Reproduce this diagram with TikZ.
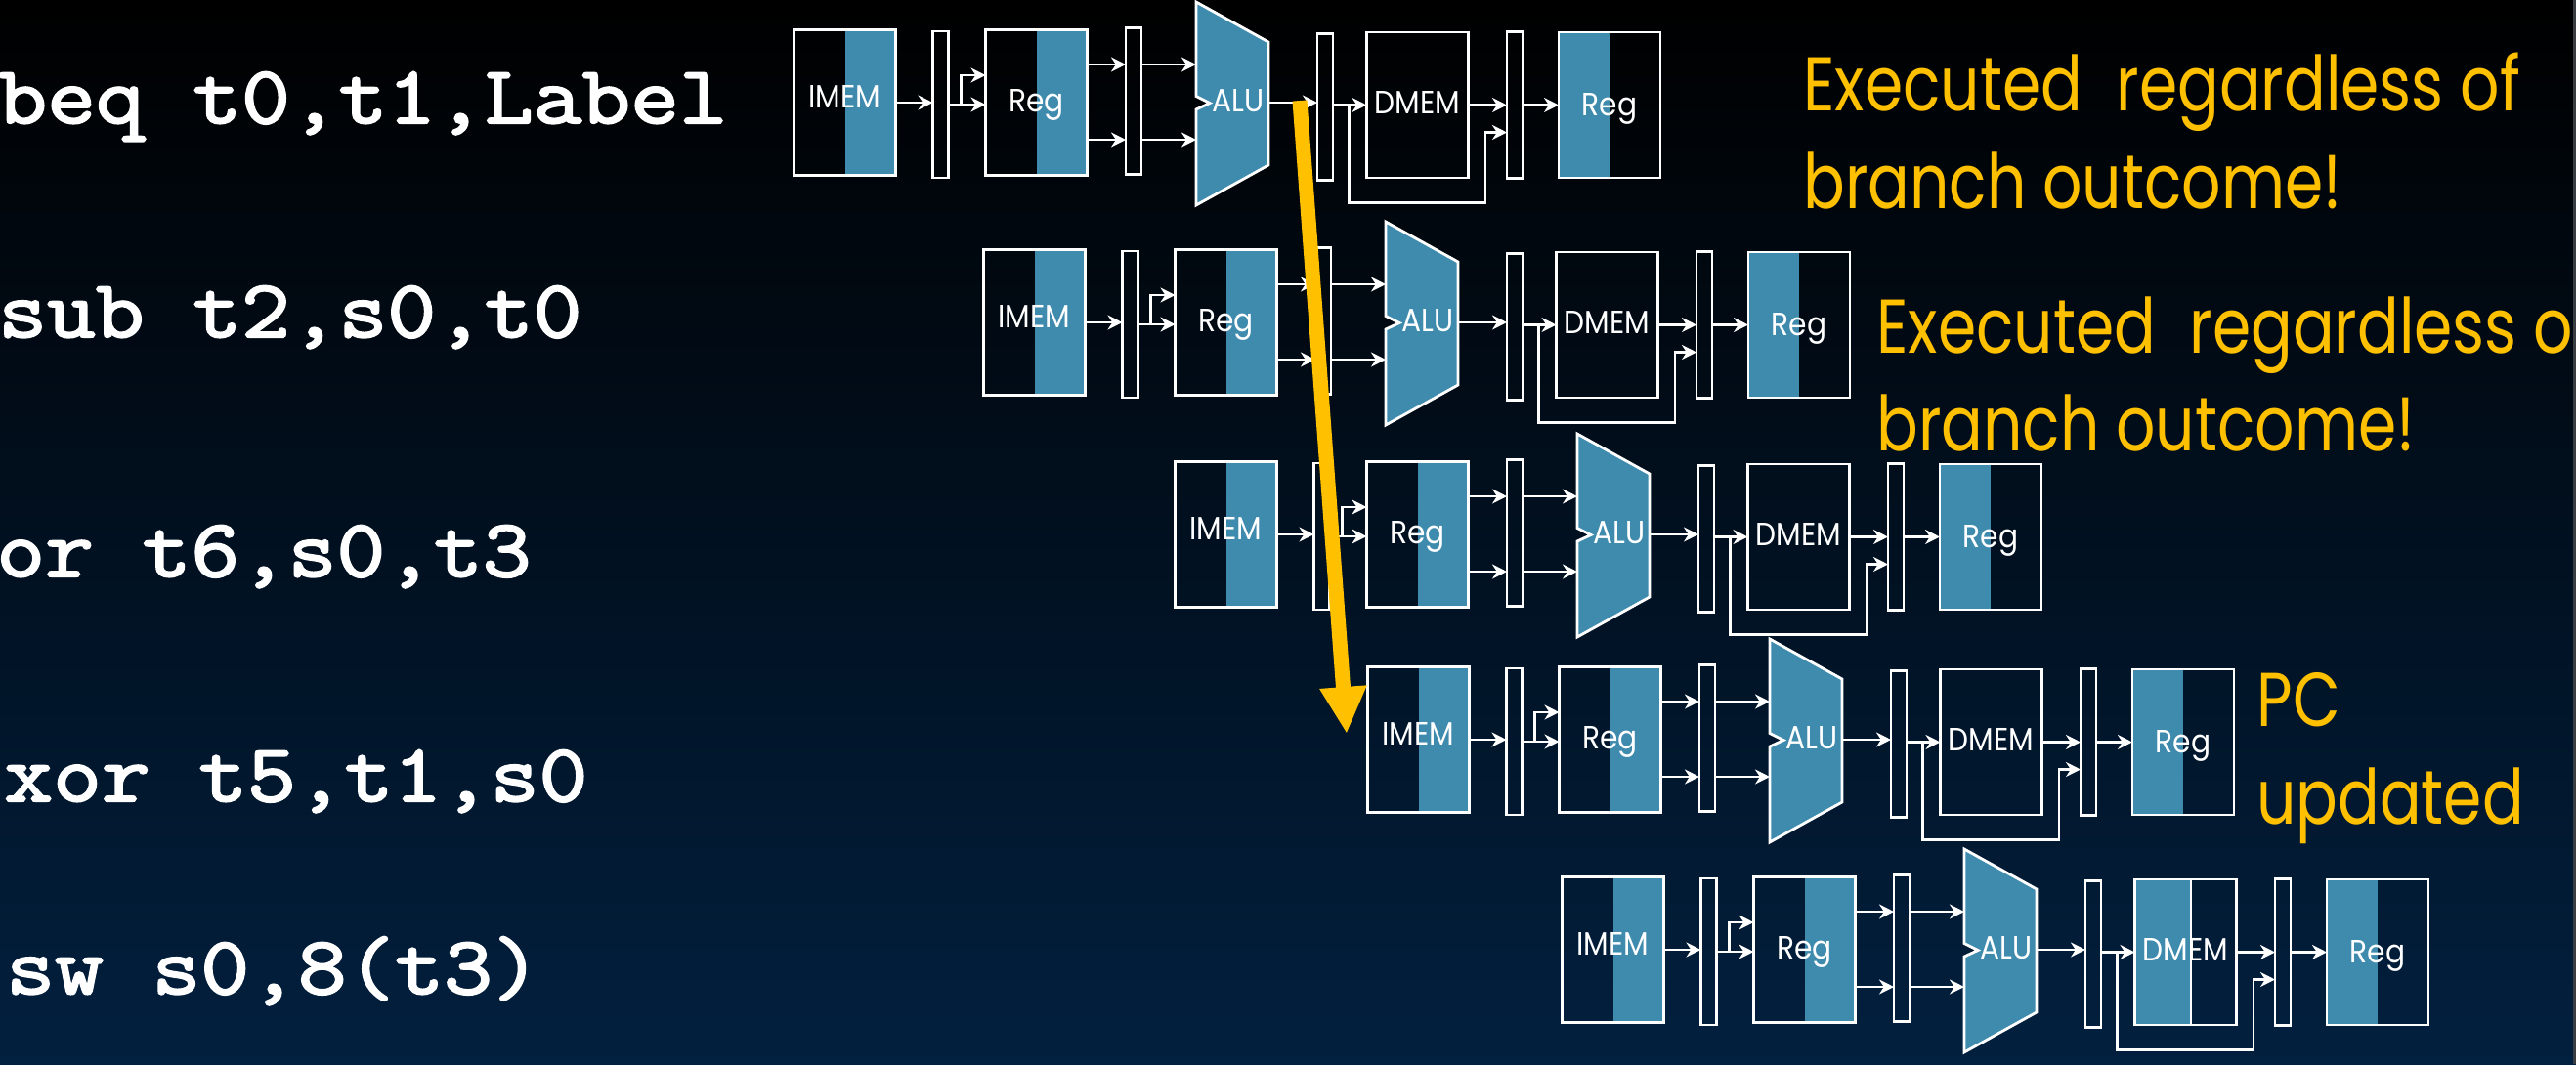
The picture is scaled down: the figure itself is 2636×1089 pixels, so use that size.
\documentclass[tikz,border=0pt]{standalone}
\usepackage{fontspec}
\usetikzlibrary{positioning,arrows.meta,calc}
\newfontfamily\instrfont[FakeStretch=1.15,FakeBold=2.6]{Latin Modern Mono}
\newfontfamily\notefont[FakeStretch=0.81]{Poppins}
\newfontfamily\blockfont[FakeStretch=0.9]{Poppins}
\definecolor{pipeblue}{HTML}{3F8BAE}
\definecolor{notegold}{HTML}{FFC000}
\definecolor{slidenavy}{HTML}{02203F}
\definecolor{edgegrey}{HTML}{3A3D42}
\tikzset{
    memblock/.style={draw=white,line width=1.4pt,minimum width=52pt,minimum height=74.5pt,
        inner sep=0pt,outer sep=0pt,text=white,text depth=0pt,font=\blockfont\fontsize{16.5}{18}\selectfont},
    latch/.style={draw=white,line width=1.3pt,minimum width=8pt,minimum height=75pt,inner sep=0pt,outer sep=0pt},
    wire/.style={draw=white,line width=1.3pt,-{Stealth[length=7.5pt,width=7.5pt]}},
    aluhull/.style={draw=white,line width=1.4pt,fill=pipeblue,line join=miter},
    alutext/.style={text=white,inner sep=0pt,text height=9pt,text depth=0pt,font=\blockfont\fontsize{16.5}{18}\selectfont},
    halfright/.style={path picture={\fill[pipeblue] (path picture bounding box.north) rectangle (path picture bounding box.south east);}},
    halfleft/.style={path picture={\fill[pipeblue] (path picture bounding box.north) rectangle (path picture bounding box.south west);}},
    halfnone/.style={},
    dmemread/.style={path picture={
        \fill[pipeblue] ([xshift=2.7pt]path picture bounding box.north) rectangle (path picture bounding box.south west);
        \draw[white,line width=1.4pt] ([xshift=2.7pt]path picture bounding box.north) -- ([xshift=2.7pt]path picture bounding box.south);}},
    instr/.style={anchor=base west,inner sep=0pt,text=white,font=\instrfont\fontsize{42}{45}\selectfont},
    note/.style={anchor=base west,inner sep=0pt,align=left,text=notegold,font=\notefont\fontsize{39}{50}\selectfont},
}

\begin{document}
\begin{tikzpicture}[x=0.5pt,y=-0.5pt]
    \useasboundingbox (0,0) rectangle (2636,1089);
    \shade[top color=black,middle color=black,bottom color=slidenavy] (0,0) rectangle (2636,1089);

    \node[instr] (beq) at (-2,126) {beq t0,t1,Label};
    \node[instr] (sub) at (-2,345) {sub t2,s0,t0};
    \node[instr] (or) at (-4,590) {or t6,s0,t3};
    \node[instr] (xor) at (4,820) {xor t5,t1,s0};
    \node[instr] (sw) at (6,1017) {sw s0,8(t3)};

    % one row per instruction
    \foreach \row/\px/\py/\dmemfill in {a/0/-1/halfnone,b/194/224/halfnone,c/390/441/halfnone,d/587/651/halfnone,e/786/866/dmemread} {
        \node[memblock,halfright,anchor=west,text height=5.5pt] (imem\row) at (812.5+\px,106+\py) {IMEM};
        \node[latch,right=19pt of imem\row,yshift=-1pt] (la\row) {};
        \node[memblock,halfright,right=19pt of la\row,yshift=1pt,text height=9.5pt] (rega\row) {Reg};
        \node[latch,right=19.75pt of rega\row,yshift=0.75pt] (lb\row) {};

        \coordinate (aluc\row) at ([xshift=49pt,yshift=-0.75pt]lb\row.east);
        \coordinate (alunw\row) at ([shift={(-42,-103)}]aluc\row);
        \coordinate (alune\row) at ([shift={(32,-62)}]aluc\row);
        \coordinate (aluse\row) at ([shift={(32,64)}]aluc\row);
        \coordinate (alusw\row) at ([shift={(-42,105)}]aluc\row);
        \draw[aluhull] (alunw\row) -- (alune\row) -- (aluse\row) -- (alusw\row)
            -- ([shift={(-42,7)}]aluc\row) -- ([shift={(-28,0.5)}]aluc\row) -- ([shift={(-42,-6.5)}]aluc\row) -- cycle;
        \node[alutext] (alu\row) at ([xshift=0.5pt]aluc\row) {ALU};
        \coordinate (aluo\row) at (aluc\row -| alune\row);

        \node[latch,anchor=west] (lc\row) at ([xshift=25pt,yshift=-2.25pt]aluo\row) {};
        \node[memblock,\dmemfill,right=17.25pt of lc\row,yshift=1pt,text height=8.5pt] (dmem\row) {DMEM};
        \node[latch,right=19.75pt of dmem\row] (ld\row) {};
        \node[memblock,halfleft,right=18.5pt of ld\row,text height=11pt] (regb\row) {Reg};

        \coordinate (tapa\row) at ([xshift=6.5pt]la\row.east);
        \coordinate (regu\row) at ([yshift=19.5pt]rega\row.east);
        \coordinate (regl\row) at ([yshift=-19pt]rega\row.east);
        \coordinate (tapb\row) at ([xshift=-9pt]dmem\row.west);
        \coordinate (low\row) at ([yshift=-50pt]tapb\row);
        \coordinate (bypc\row) at ([yshift=-14pt]ld\row.west);
        \coordinate (rise\row) at ([xshift=-11pt]bypc\row);

        \draw[wire] (imem\row.east) -- (imem\row.east -| la\row.west);
        \draw[wire] (la\row.east) -- (la\row.east -| rega\row.west);
        \draw[wire] (tapa\row |- la\row.east) |- ([yshift=14pt]rega\row.west);
        \draw[wire] (regu\row) -- (regu\row -| lb\row.west);
        \draw[wire] (regl\row) -- (regl\row -| lb\row.west);
        \draw[wire] (regu\row -| lb\row.east) -- (regu\row -| alunw\row);
        \draw[wire] (regl\row -| lb\row.east) -- (regl\row -| alunw\row);
        \draw[wire] (aluo\row) -- (aluo\row -| lc\row.west);
        \draw[wire] (dmem\row.west -| lc\row.east) -- (dmem\row.west);
        \draw[wire] (tapb\row) -- (low\row) -| (rise\row) -- (bypc\row);
        \draw[wire] (dmem\row.east) -- (dmem\row.east -| ld\row.west);
        \draw[wire] (ld\row.east) -- (ld\row.east -| regb\row.west);
    }

    \node[note] (regardlessa) at (1845,213) {Executed\hspace{9pt} regardless of\\branch outcome!};
    \node[note] (regardlessb) at (1920,461) {Executed\hspace{9pt} regardless o\\branch outcome!};
    \node[note] (pcupdated) at (2309,843) {PC\\updated};

    % branch decision
    \coordinate (takenfrom) at (1330,103);
    \coordinate (takento) at (1378,751);
    \draw[draw=notegold,line width=7.5pt,-{Triangle[length=24pt,width=22.5pt]}] (takenfrom) -- (takento);

    \fill[edgegrey] (2633,0) rectangle (2636,1089);
\end{tikzpicture}
\end{document}
